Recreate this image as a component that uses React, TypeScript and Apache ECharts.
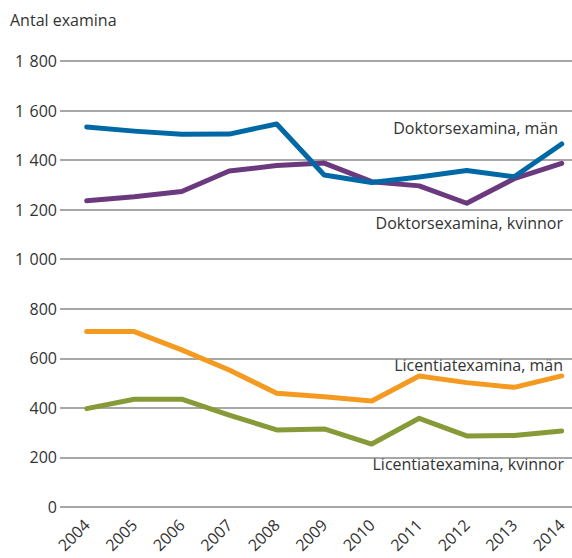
import React, { useEffect, useRef } from "react";
import * as echarts from "echarts";

const years = ["2004", "2005", "2006", "2007", "2008", "2009", "2010", "2011", "2012", "2013", "2014"];
const doktorMan = [1534, 1517, 1504, 1505, 1546, 1340, 1310, 1332, 1358, 1333, 1465];
const doktorKvinnor = [1236, 1252, 1273, 1356, 1378, 1388, 1313, 1296, 1226, 1325, 1387];
const licMan = [708, 708, 634, 553, 459, 445, 428, 529, 502, 483, 529];
const licKvinnor = [397, 435, 435, 371, 311, 315, 254, 358, 287, 289, 307];
const yTicks = { min: 0, max: 1800, interval: 200 };

const FONT = "'Open Sans', sans-serif";
const TXT = "#333333";

function fmt(v: number): string {
  const s = String(v);
  return s.length > 3 ? s.slice(0, s.length - 3) + "\u2004" + s.slice(-3) : s;
}

export default function App() {
  const ref = useRef<HTMLDivElement>(null);
  useEffect(() => {
    if (!ref.current) return;
    const chart = echarts.init(ref.current, null, { renderer: "svg" });
    const line = (name: string, data: number[], color: string) => ({
      name,
      type: "line",
      xAxisIndex: 1,
      yAxisIndex: 1,
      data,
      symbol: "none",
      lineStyle: { color, width: 5, cap: "round", join: "round" },
      itemStyle: { color },
    });
    const label = (text: string, x: number, y: number) => ({
      type: "text",
      right: 572 - x,
      top: y - 10,
      style: { text, fill: TXT, font: `16px ${FONT}`, textAlign: "right" },
    });
    chart.setOption({
      animation: false,
      grid: [
        { left: 60, right: 0, top: 61, bottom: 51 },
        { left: 86.7, right: 10.3, top: 61, bottom: 51 },
      ],
      xAxis: [
        { type: "category", gridIndex: 0, data: years, show: false },
        {
          type: "category",
          gridIndex: 1,
          data: years,
          boundaryGap: false,
          axisLine: { show: false },
          axisTick: { show: false },
          splitLine: { show: false },
          axisLabel: { rotate: 45, margin: 15, color: TXT, fontFamily: FONT, fontSize: 16 },
        },
      ],
      yAxis: [
        {
          type: "value",
          gridIndex: 0,
          min: yTicks.min,
          max: yTicks.max,
          interval: yTicks.interval,
          axisLine: { show: false },
          axisTick: { show: false },
          axisLabel: { color: TXT, fontFamily: FONT, fontSize: 16, margin: 3, formatter: fmt },
          splitLine: { lineStyle: { color: "#8a8a8a", width: 1.5 } },
        },
        {
          type: "value",
          gridIndex: 1,
          min: yTicks.min,
          max: yTicks.max,
          interval: yTicks.interval,
          show: false,
        },
      ],
      series: [
        line("Licentiatexamina, kvinnor", licKvinnor, "#869b37"),
        line("Licentiatexamina, män", licMan, "#f59a20"),
        line("Doktorsexamina, kvinnor", doktorKvinnor, "#6b3a7e"),
        line("Doktorsexamina, män", doktorMan, "#0069a5"),
      ],
      graphic: [
        { type: "text", left: 10, top: 12, style: { text: "Antal examina", fill: TXT, font: `16px ${FONT}` } },
        label("Doktorsexamina, män", 558, 130),
        label("Doktorsexamina, kvinnor", 563, 225),
        label("Licentiatexamina, män", 563, 367),
        label("Licentiatexamina, kvinnor", 564, 466),
      ],
    });
    return () => chart.dispose();
  }, []);
  return <div ref={ref} style={{ width: 572, height: 558, position: "absolute", left: 0, top: 0 }} />;
}
